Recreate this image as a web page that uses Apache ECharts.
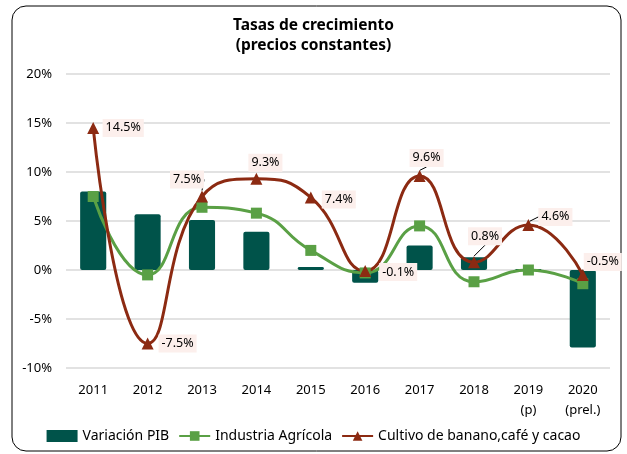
<!DOCTYPE html>
<html>
<head>
<meta charset="utf-8">
<script src="https://cdn.jsdelivr.net/npm/echarts@6/dist/echarts.min.js"></script>
<style>
html,body{margin:0;padding:0;background:#fff;}
#chart{width:627px;height:454px;}
</style>
</head>
<body>
<div id="chart"></div>
<script>
var years=['2011','2012','2013','2014','2015','2016','2017','2018','2019\n(p)','2020\n(prel.)'];
var pib=[8.0,5.7,5.1,3.9,0.3,-1.3,2.5,1.3,0.1,-7.9];
var agricola=[7.5,-0.5,6.4,5.8,2.0,-0.3,4.5,-1.2,0.0,-1.4];
var cultivo=[14.5,-7.5,7.5,9.3,7.4,-0.1,9.6,0.8,4.6,-0.5];
// label offsets (from the point) and leader lines for the red series
var lblOff=[[30,0],[30,0],[-15,-17],[9,-16],[28,2],[33,1],[7,-18],[11,-26],[27,-8],[20,-13]];
var leader=[false,false,true,false,false,false,true,true,true,false];

var font='Noto Sans';
var chart=echarts.init(document.getElementById('chart'));

var cultivoData=cultivo.map(function(v,i){
    return {value:v,labelLine:{show:leader[i]}};
});

var option={
    textStyle:{fontFamily:font},
    title:{
        text:'Tasas de crecimiento\n(precios constantes)',
        left:'center',
        top:11,
        textStyle:{fontSize:15.5,fontWeight:'bold',color:'#000',lineHeight:20,fontFamily:font}
    },
    legend:{
        bottom:6,
        left:'center',
        itemGap:9,
        itemWidth:31,
        itemHeight:12,
        textStyle:{fontSize:14,color:'#000',fontFamily:font},
        data:[
            {name:'Variación PIB',icon:'rect'},
            {name:'Industria Agrícola'},
            {name:'Cultivo de banano,café y cacao'}
        ]
    },
    grid:{left:66,right:17,top:74,bottom:86},
    xAxis:{
        type:'category',
        data:years,
        axisLine:{show:false},
        axisTick:{show:false},
        axisLabel:{fontSize:13,color:'#000',margin:12,lineHeight:20,align:'center',fontFamily:font}
    },
    yAxis:{
        type:'value',
        min:-10,max:20,interval:5,
        axisLabel:{fontSize:13,color:'#000',margin:14,formatter:'{value}%',fontFamily:font},
        splitLine:{lineStyle:{color:'#d9d9d9',width:1.5}}
    },
    series:[
        {
            name:'Variación PIB',
            type:'bar',
            data:pib,
            barWidth:'48%',
            itemStyle:{color:'#00534a',borderRadius:2}
        },
        {
            name:'Industria Agrícola',
            type:'line',
            data:agricola,
            smooth:0.5,
            symbol:'rect',
            symbolSize:11,
            lineStyle:{color:'#5aa045',width:3},
            itemStyle:{color:'#5aa045'}
        },
        {
            name:'Cultivo de banano,café y cacao',
            type:'line',
            data:cultivoData,
            smooth:0.5,
            symbol:'triangle',
            symbolSize:12,
            lineStyle:{color:'#8c2a12',width:3},
            itemStyle:{color:'#8c2a12'},
            label:{
                show:true,
                position:'inside',
                formatter:function(p){return p.value.toFixed(1)+'%';},
                fontSize:12.5,
                color:'#000',
                fontFamily:font,
                backgroundColor:'#fcefec',
                padding:[3,3,2,3]
            },
            labelLine:{show:true,lineStyle:{color:'#000',width:1}},
            labelLayout:function(p){
                var o=lblOff[p.dataIndex];
                return {dx:o[0],dy:o[1]};
            }
        }
    ],
    graphic:[{
        type:'rect',
        shape:{x:12,y:6,width:609,height:445,r:14},
        style:{fill:'none',stroke:'#000',lineWidth:1},
        silent:true,
        z:-1
    }]
};
chart.setOption(option);
</script>
</body>
</html>
